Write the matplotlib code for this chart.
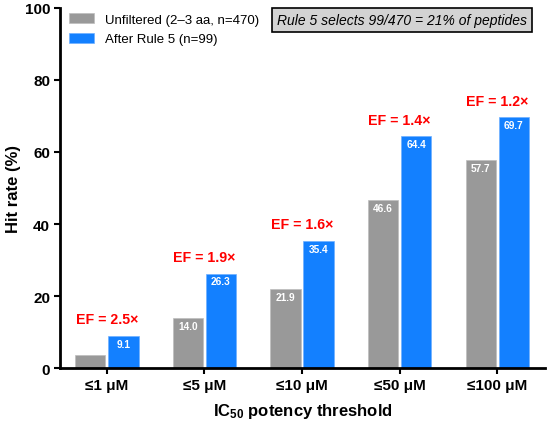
import matplotlib
matplotlib.use("Agg")
import matplotlib.pyplot as plt
import numpy as np

plt.rcParams['font.family'] = ['Liberation Sans', 'DejaVu Sans']
plt.rcParams['mathtext.fontset'] = 'custom'
plt.rcParams['mathtext.rm'] = 'Liberation Sans:bold'
plt.rcParams['mathtext.bf'] = 'Liberation Sans:bold'
plt.rcParams['mathtext.default'] = 'bf'

categories = ['≤1 μM', '≤5 μM', '≤10 μM', '≤50 μM', '≤100 μM']
unfiltered = [3.6, 14.0, 21.9, 46.6, 57.7]
after_rule5 = [9.1, 26.3, 35.4, 64.4, 69.7]
ef_values = [2.5, 1.9, 1.6, 1.4, 1.2]
y_ticks = [0, 20, 40, 60, 80, 100]

gray = '#999999'
blue = '#1380ff'

fig = plt.figure(figsize=(5.5, 4.27), dpi=100)
ax = fig.add_axes([0.109, 0.1347, 0.882, 0.8453])

x = np.arange(len(categories))
w = 0.31
off = 0.17
ax.bar(x - off, unfiltered, w, color=gray, edgecolor='#bdbdbd', linewidth=0.5,
       label='Unfiltered (2–3 aa, n=470)', zorder=2)
ax.bar(x + off, after_rule5, w, color=blue, edgecolor='#6fb0ff', linewidth=0.5,
       label='After Rule 5 (n=99)', zorder=2)

for xi, v in zip(x - off, unfiltered):
    if v >= 8:
        ax.text(xi, v - 2.2, f'{v:.1f}', ha='center', va='center', color='white',
                fontsize=7.3, fontweight='bold', zorder=3)
for xi, v in zip(x + off, after_rule5):
    ax.text(xi, v - 2.2, f'{v:.1f}', ha='center', va='center', color='white',
            fontsize=7.3, fontweight='bold', zorder=3)

for xi, v, ef in zip(x, after_rule5, ef_values):
    ax.text(xi, v + 2.6, f'EF = {ef:.1f}×', ha='center', va='bottom', color='#ff0000',
            fontsize=10.2, fontweight='bold', zorder=3)

ax.set_xlim(-0.48, 4.49)
ax.set_ylim(0, 100)
ax.set_xticks(x)
ax.set_xticklabels(categories, fontsize=11, fontweight='bold')
ax.set_yticks(y_ticks)
ax.set_yticklabels([str(t) for t in y_ticks], fontsize=11, fontweight='bold')
ax.tick_params(axis='both', width=1.5, length=4, direction='out', pad=3)

for s in ['top', 'right']:
    ax.spines[s].set_visible(False)
for s in ['left', 'bottom']:
    ax.spines[s].set_linewidth(2.0)

ax.set_ylabel('Hit rate (%)', fontsize=12, fontweight='bold', labelpad=3)
ax.set_xlabel(r'IC$_{50}$ potency threshold', fontsize=12, fontweight='bold', labelpad=6)

ax.legend(loc='upper left', bbox_to_anchor=(0.0, 1.01), frameon=False,
          fontsize=9.5, handlelength=1.9, handleheight=0.75, labelspacing=0.55,
          handletextpad=0.8, borderaxespad=0.3)

ax.text(0.705, 0.965, 'Rule 5 selects 99/470 = 21% of peptides', transform=ax.transAxes,
        ha='center', va='center', fontsize=10, fontstyle='italic',
        bbox=dict(boxstyle='square,pad=0.38', facecolor='#d3d3d3', edgecolor='black',
                  linewidth=1.2))

fig.savefig('out.png', dpi=100)
